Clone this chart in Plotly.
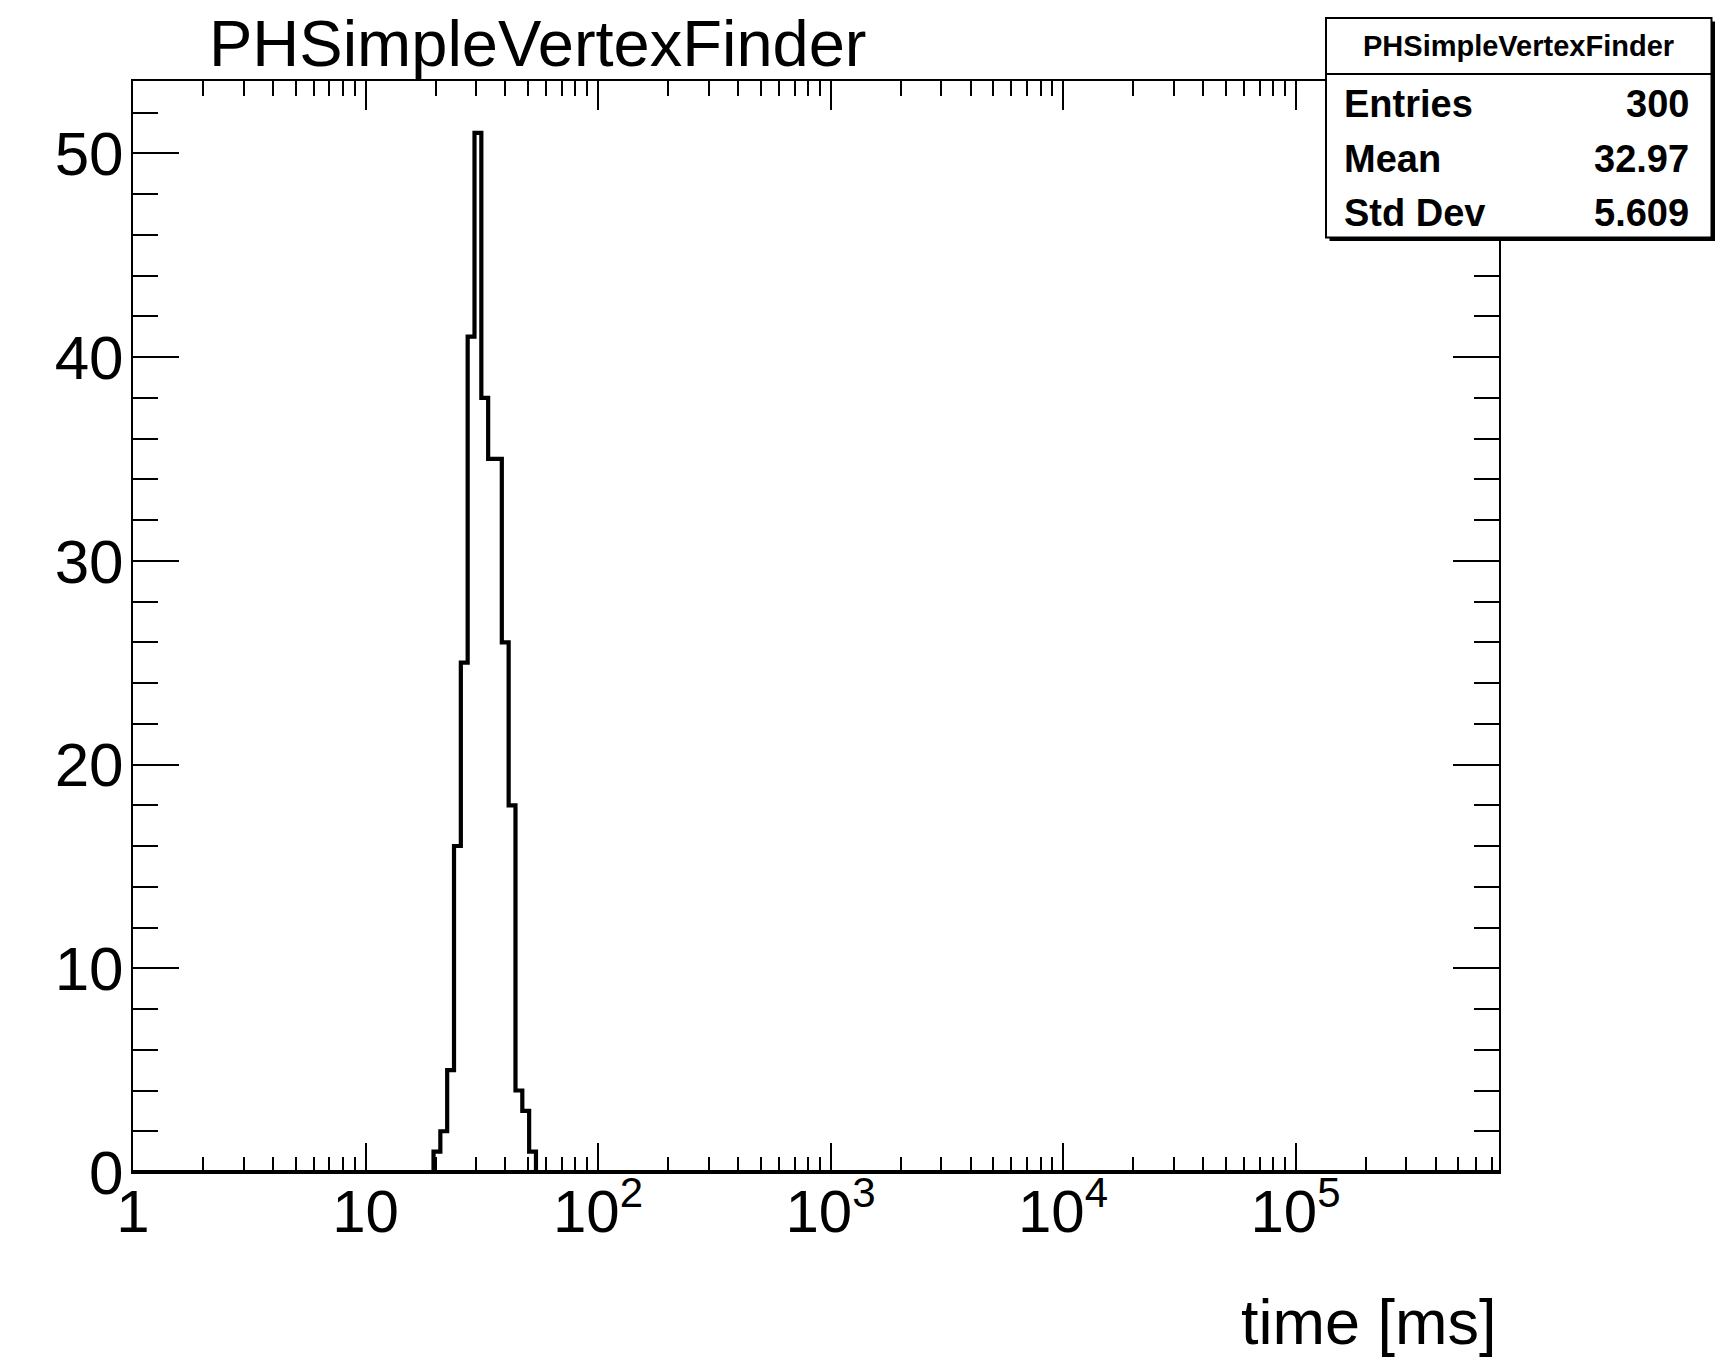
import numpy as np
import plotly.graph_objects as go

# log-binned timing histogram (ROOT style)
n_bins = 200
x_lo = 1.0
x_hi = 7.5e5

# bins with entries, starting at bin index 44
first_bin = 44
counts_nonzero = [1, 2, 5, 16, 25, 41, 51, 38, 35, 35, 26, 18, 4, 3, 1]

hist_title = "PHSimpleVertexFinder"
x_title = "time [ms]"
stats_labels = ["Entries", "Mean", "Std Dev"]
stats_values = ["300", "32.97", "5.609"]

x_tickvals = [1, 10, 100, 1e3, 1e4, 1e5]
x_ticktext = ["1", "10", "10<sup>2</sup>", "10<sup>3</sup>", "10<sup>4</sup>", "10<sup>5</sup>"]
y_tickvals = [0, 10, 20, 30, 40, 50]

edges = np.logspace(np.log10(x_lo), np.log10(x_hi), n_bins + 1)
counts = np.zeros(n_bins)
counts[first_bin:first_bin + len(counts_nonzero)] = counts_nonzero
y_max = counts.max() * 1.05

W, H = 1717, 1360
L, R, T, B = 133, 218, 81, 188
pw, ph = W - L - R, H - T - B
FONT = "Liberation Sans, Arial, Helvetica, sans-serif"


def px_x(px):
    # page pixel -> paper x
    return (px - L) / pw


def px_y(py):
    # page pixel -> paper y
    return (H - B - py) / ph


fig = go.Figure()
fig.add_trace(go.Scatter(
    x=edges, y=np.append(counts, counts[-1]),
    mode="lines", line=dict(color="black", width=4.2, shape="hv"),
    hoverinfo="skip", showlegend=False,
))

fig.update_layout(
    width=W, height=H,
    margin=dict(l=L, r=R, t=T, b=B),
    paper_bgcolor="white", plot_bgcolor="white",
    font=dict(family=FONT, color="black"),
    showlegend=False,
)

fig.update_xaxes(
    type="log", range=[np.log10(x_lo), np.log10(x_hi)],
    showgrid=False, zeroline=False,
    showline=True, linecolor="black", linewidth=2, mirror="allticks",
    ticks="inside", ticklen=29, tickwidth=2, tickcolor="black",
    tickmode="array", tickvals=x_tickvals, ticktext=x_ticktext,
    tickfont=dict(size=60, family=FONT), ticklabelstandoff=-14,
    minor=dict(ticks="inside", ticklen=15, tickwidth=2, tickcolor="black",
               dtick="D1", showgrid=False),
)
fig.update_yaxes(
    range=[0, y_max],
    showgrid=False, zeroline=False,
    showline=True, linecolor="black", linewidth=2, mirror="allticks",
    ticks="inside", ticklen=46, tickwidth=2, tickcolor="black",
    tickmode="array", tickvals=y_tickvals,
    tickfont=dict(size=62, family=FONT), ticklabelstandoff=-5,
    minor=dict(ticks="inside", ticklen=25, tickwidth=2, tickcolor="black",
               dtick=2, showgrid=False),
)

# zero-count bins drawn along the axis make the bottom edge heavy
fig.add_shape(type="line", xref="paper", yref="y", x0=0, x1=1, y0=0, y1=0,
              line=dict(color="black", width=4), layer="above")

# histogram title
fig.add_annotation(
    text=hist_title, xref="paper", yref="paper",
    x=px_x(207), y=px_y(44), xanchor="left", yanchor="middle",
    showarrow=False, font=dict(size=65, family=FONT),
)
# axis title, right aligned as in ROOT
fig.add_annotation(
    text=x_title, xref="paper", yref="paper",
    x=px_x(1499), y=px_y(1322), xanchor="right", yanchor="middle",
    showarrow=False, font=dict(size=63, family=FONT),
)

# stats box with shadow
bx0, bx1, by0, by1 = 1326, 1711.5, 18, 237.5
fig.add_shape(type="rect", xref="paper", yref="paper",
              x0=px_x(bx0 + 3.5), x1=px_x(bx1 + 3.5), y0=px_y(by1 + 3.5), y1=px_y(by0 + 3.5),
              fillcolor="black", line=dict(width=0), layer="above")
fig.add_shape(type="rect", xref="paper", yref="paper",
              x0=px_x(bx0), x1=px_x(bx1), y0=px_y(by1), y1=px_y(by0),
              fillcolor="white", line=dict(color="black", width=2), layer="above")
fig.add_shape(type="line", xref="paper", yref="paper",
              x0=px_x(bx0), x1=px_x(bx1), y0=px_y(74), y1=px_y(74),
              line=dict(color="black", width=2), layer="above")
fig.add_annotation(
    text="<b>%s</b>" % hist_title, xref="paper", yref="paper",
    x=px_x((bx0 + bx1) / 2), y=px_y(46), xanchor="center", yanchor="middle",
    showarrow=False, font=dict(size=29, family=FONT),
)
row_y = [104, 159, 213]
for lab, val, ry in zip(stats_labels, stats_values, row_y):
    fig.add_annotation(
        text="<b>%s</b>" % lab, xref="paper", yref="paper",
        x=px_x(1342), y=px_y(ry), xanchor="left", yanchor="middle",
        showarrow=False, font=dict(size=38, family=FONT),
    )
    fig.add_annotation(
        text="<b>%s</b>" % val, xref="paper", yref="paper",
        x=px_x(1691), y=px_y(ry), xanchor="right", yanchor="middle",
        showarrow=False, font=dict(size=38, family=FONT),
    )

# drop the default body margin so the figure fills the window exactly
fig.write_html("out.html", config={"displayModeBar": False},
               post_script="document.body.style.margin='0px';")
